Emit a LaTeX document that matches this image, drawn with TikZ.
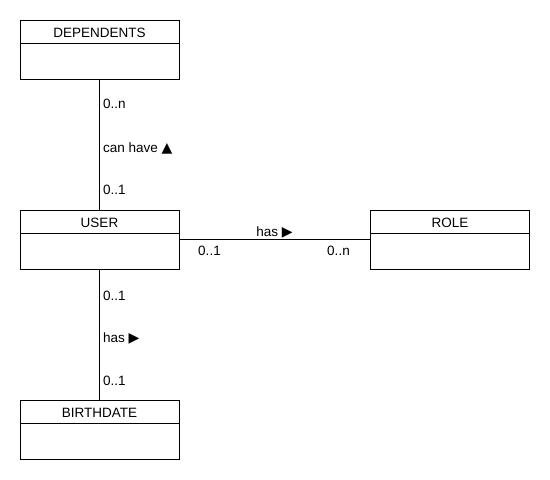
\documentclass[tikz,border=0pt]{standalone}
\usepackage{fontspec}
\setmainfont{Liberation Sans}
\newfontfamily\symfont{DejaVu Sans}
\usetikzlibrary{calc}
\newcommand{\tri}[1]{{\symfont\fontsize{14}{16}\selectfont #1}}
\begin{document}
\begin{tikzpicture}[x=1pt,y=-1pt,
  cls/.style={draw,line width=0.9pt,minimum width=159pt,minimum height=59pt,inner sep=0pt},
  ttl/.style={font=\fontsize{13.5}{16}\selectfont,inner sep=0pt},
  lbl/.style={font=\fontsize{13.5}{16}\selectfont,inner sep=0pt,anchor=west},
  conn/.style={line width=0.9pt}]
\useasboundingbox (0,0) rectangle (550,480);
\fill[white] (0,0) rectangle (550,480);
% classes
\node[cls] (dep) at (99.5,49.5) {};
\node[cls] (user) at (99.5,239.5) {};
\node[cls] (role) at (450,239.5) {};
\node[cls] (birth) at (99.5,429.5) {};
\foreach \b/\t in {dep/DEPENDENTS,user/USER,role/ROLE,birth/BIRTHDATE}{
  \draw[conn] ($(\b.north west)+(0,23.5)$) -- ($(\b.north east)+(0,23.5)$);
  \node[ttl] (\b-title) at ($(\b.north)+(0,13)$) {\t};
}
% connectors
\draw[conn] (dep.south) -- (user.north);
\draw[conn] (user.east) -- (role.west);
\draw[conn] (user.south) -- (birth.north);
% labels
\node[lbl] (l1) at (103,104) {0..n};
\node[lbl] (l2) at (103,148.5) {can have \tri{▲}};
\node[lbl] (l3) at (103,189.5) {0..1};
\node[lbl] (l4) at (103,295.5) {0..1};
\node[lbl] (l5) at (103,338.5) {has \tri{▶}};
\node[lbl] (l6) at (103,380.5) {0..1};
\node[ttl] (h1) at (274.5,232) {has \tri{▶}};
\node[ttl] (h2) at (209.5,250.5) {0..1};
\node[ttl] (h3) at (338.5,250.5) {0..n};
\end{tikzpicture}
\end{document}
